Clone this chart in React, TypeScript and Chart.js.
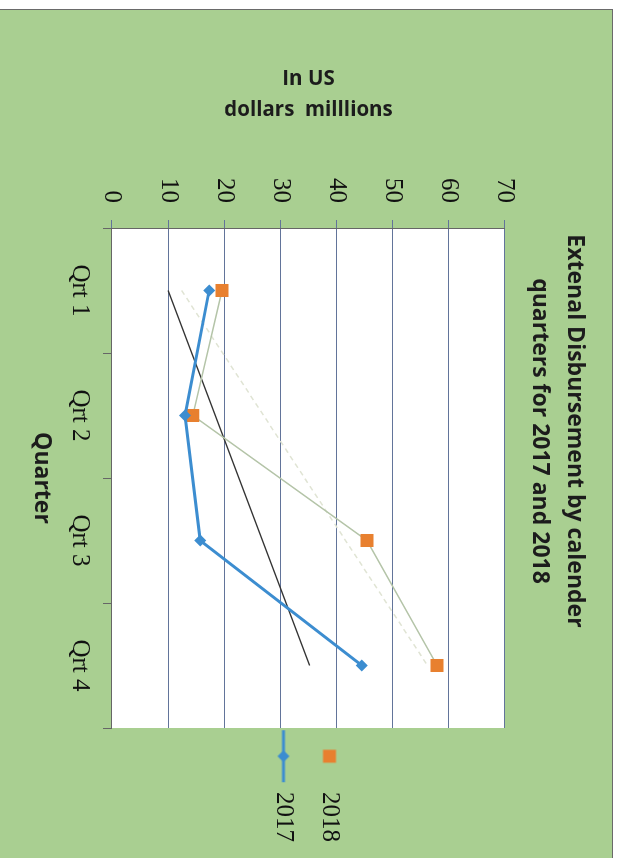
import React, { useEffect, useRef } from 'react';
import { Chart, registerables } from 'chart.js';

Chart.register(...registerables);

// ---- data ----
const quarters = ['Qrt 1', 'Qrt 2', 'Qrt 3', 'Qrt 4'];
const values2017 = [17.3, 13.0, 15.7, 44.5];
const values2018 = [19.6, 14.4, 45.4, 57.9];
// linear trend lines (end points)
const trend2017 = [10.0, null, null, 35.2];
const trend2018 = [12.4, null, null, 56.2];
const valueTicks = [0, 10, 20, 30, 40, 50, 60, 70];
const titleLines = ['Extenal Disbursement by calender', 'quarters for 2017 and 2018'];
const yTitleLines = ['In US', 'dollars  milllions'];
const xTitle = 'Quarter';
const seriesLabels = ['2017', '2018', 'Linear (2017)', 'Linear (2018)'];

const BLUE = '#3c8dd0';
const ORANGE = '#e8802f';
const LINE2018 = '#b4c4a8';
const TREND2017 = '#333333';
const TREND2018 = '#e0e4d4';
const GRID = '#62749a';
const AXIS = '#666666';

function makeIcon(kind: 'lineDiamond' | 'square', color: string): HTMLCanvasElement {
  const c = document.createElement('canvas');
  c.width = 70;
  c.height = 16;
  const g = c.getContext('2d')!;
  const cx = 27;
  const cy = 8;
  g.fillStyle = color;
  if (kind === 'lineDiamond') {
    g.strokeStyle = color;
    g.lineWidth = 3;
    g.beginPath();
    g.moveTo(cx - 26, cy);
    g.lineTo(cx + 26, cy);
    g.stroke();
    g.beginPath();
    g.moveTo(cx - 6, cy);
    g.lineTo(cx, cy - 6);
    g.lineTo(cx + 6, cy);
    g.lineTo(cx, cy + 6);
    g.closePath();
    g.fill();
  } else {
    g.fillRect(cx - 6.5, cy - 6.5, 13, 13);
  }
  return c;
}

export default function App() {
  const ref = useRef<HTMLCanvasElement>(null);

  useEffect(() => {
    const canvas = ref.current!;
    const icons = [makeIcon('lineDiamond', BLUE), makeIcon('square', ORANGE)];

    const plotBg = {
      id: 'plotBg',
      beforeDraw(chart: any) {
        const { ctx, chartArea } = chart;
        ctx.save();
        ctx.fillStyle = '#ffffff';
        ctx.fillRect(chartArea.left, chartArea.top, chartArea.width, chartArea.height);
        ctx.restore();
      },
    };

    const chart = new Chart(canvas, {
      type: 'line',
      data: {
        labels: quarters,
        datasets: [
          {
            label: seriesLabels[0],
            data: values2017,
            borderColor: BLUE,
            backgroundColor: BLUE,
            borderWidth: 3,
            pointStyle: 'rectRot',
            pointRadius: 6,
            pointBackgroundColor: BLUE,
            pointBorderColor: BLUE,
            pointBorderWidth: 0,
            tension: 0,
          },
          {
            label: seriesLabels[1],
            data: values2018,
            borderColor: LINE2018,
            backgroundColor: ORANGE,
            borderWidth: 1.5,
            pointStyle: 'rect',
            pointRadius: 9.2,
            pointBackgroundColor: ORANGE,
            pointBorderColor: ORANGE,
            pointBorderWidth: 0,
            tension: 0,
          },
          {
            label: seriesLabels[2],
            data: trend2017,
            spanGaps: true,
            borderColor: TREND2017,
            borderWidth: 1.5,
            pointRadius: 0,
          },
          {
            label: seriesLabels[3],
            data: trend2018,
            spanGaps: true,
            borderColor: TREND2018,
            borderWidth: 1.5,
            borderDash: [5, 4],
            pointRadius: 0,
          },
        ],
      },
      options: {
        animation: false,
        responsive: false,
        devicePixelRatio: 1,
        layout: { padding: { left: 0, right: 6, top: 0, bottom: 0 } },
        plugins: {
          title: {
            display: true,
            text: titleLines,
            color: '#1c1c1c',
            font: { family: 'Open Sans', weight: 'bold', size: 23, lineHeight: '35px' },
            padding: { top: 20.5, bottom: 17.5 },
          },
          legend: {
            position: 'right',
            reverse: true,
            labels: {
              usePointStyle: true,
              pointStyleWidth: 30.5,
              padding: 21,
              color: '#111111',
              font: { family: 'Liberation Serif', size: 25 },
              generateLabels: (ch: any) => {
                const items = (Chart.defaults.plugins.legend.labels as any).generateLabels(ch);
                return items
                  .filter((it: any) => it.datasetIndex < 2)
                  .map((it: any) => ({ ...it, pointStyle: icons[it.datasetIndex], lineWidth: 0 }));
              },
            },
          },
          tooltip: { enabled: false },
        },
        scales: {
          x: {
            type: 'category',
            offset: true,
            grid: { offset: true, drawOnChartArea: false, drawTicks: true, tickLength: 9, color: AXIS },
            border: { display: true, color: AXIS, width: 1 },
            ticks: {
              padding: 8,
              color: '#111111',
              font: { family: 'Liberation Serif', size: 25 },
              maxRotation: 0,
              autoSkip: false,
            },
            title: {
              display: true,
              text: xTitle,
              color: '#1c1c1c',
              font: { family: 'Open Sans', weight: 'bold', size: 23 },
              padding: { top: 0, bottom: 28 },
            },
            afterFit: (s: any) => {
              s.height = 112;
            },
          },
          y: {
            min: valueTicks[0],
            max: valueTicks[valueTicks.length - 1],
            ticks: {
              stepSize: valueTicks[1] - valueTicks[0],
              padding: 17,
              color: '#111111',
              font: { family: 'Liberation Serif', size: 25 },
            },
            grid: { color: GRID, lineWidth: 1, tickLength: 8 },
            border: { display: true, color: AXIS, width: 1 },
            title: {
              display: true,
              text: yTitleLines,
              color: '#1c1c1c',
              font: { family: 'Open Sans', weight: 'bold', size: 20.5, lineHeight: '31px' },
              padding: { top: 53.5, bottom: 0 },
            },
            afterFit: (s: any) => {
              s.width = 218;
            },
          },
        },
      },
      plugins: [plotBg],
    } as any);

    return () => chart.destroy();
  }, []);

  return (
    <div
      style={{
        position: 'fixed',
        left: 0,
        top: 0,
        width: 624,
        height: 858,
        background: '#ffffff',
        overflow: 'hidden',
      }}
    >
      <div
        style={{
          position: 'absolute',
          left: -2,
          top: 9,
          width: 615,
          height: 860,
          background: '#a9cf91',
          border: '1.5px solid #6a6a6a',
          boxSizing: 'border-box',
        }}
      />
      <canvas
        ref={ref}
        width={848}
        height={613}
        style={{
          position: 'absolute',
          left: 0,
          top: 0,
          width: 848,
          height: 613,
          transformOrigin: '0 0',
          transform: 'translate(613px, 10px) rotate(90deg)',
        }}
      />
    </div>
  );
}
